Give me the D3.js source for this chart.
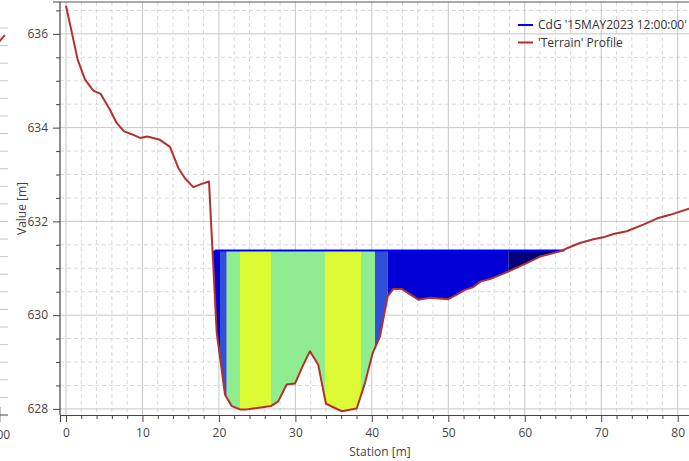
<!DOCTYPE html>
<html>
<head>
<meta charset="utf-8">
<script src="https://cdn.jsdelivr.net/npm/d3@7"></script>
<style>
  html, body { margin: 0; padding: 0; background: #ffffff; }
  svg { display: block; font-family: "Open Sans", "Noto Sans", sans-serif; }
</style>
</head>
<body>
<svg id="chart" width="689" height="461"></svg>
<script>
// ---------- data ----------
const terrainStation = [0, 1.53, 2.48, 3.57, 4.54, 5.75, 6.63, 7.59, 8.59, 9.68, 10.63, 12.29, 13.60, 14.69, 15.56, 16.65, 17.75, 18.70,
  19.71, 20.80, 21.67, 22.76, 23.63, 26.81, 27.76, 28.86, 29.95, 31.03, 31.91, 32.99, 34.00, 36.06, 38.02, 39.10, 40.11, 41.07,
  42.07, 42.81, 43.90, 46.08, 47.61, 50.00, 51.10, 52.18, 53.27, 54.24, 55.45, 57.85, 60.25, 61.99, 64.61, 66.14, 67.22, 68.97,
  70.28, 71.59, 73.34, 75.50, 77.26, 79.00, 81.48, 83.00];
const terrainValue = [636.60, 635.45, 635.03, 634.79, 634.72, 634.38, 634.10, 633.92, 633.86, 633.78, 633.81, 633.74, 633.59, 633.14, 632.92, 632.73, 632.80, 632.85,
  629.63, 628.30, 628.06, 627.99, 627.99, 628.06, 628.16, 628.52, 628.54, 628.94, 629.23, 628.94, 628.11, 627.95, 628.01, 628.55, 629.19, 629.55,
  630.40, 630.56, 630.56, 630.33, 630.37, 630.34, 630.44, 630.54, 630.60, 630.72, 630.77, 630.93, 631.11, 631.25, 631.36, 631.47, 631.54, 631.62,
  631.66, 631.73, 631.79, 631.93, 632.06, 632.14, 632.27, 632.33];

const waterSurface = 631.38;
// velocity-coloured water bands: start / end station and colour class
const bandStart = [18.9, 20.14, 21.02, 22.76, 26.81, 33.87, 38.58, 40.41, 42.07, 57.85];
const bandEnd   = [20.14, 21.02, 22.76, 26.81, 33.87, 38.58, 40.41, 42.07, 57.85, 66.5];
const bandClass = ["blue", "mid", "green", "yellow", "green", "yellow", "green", "mid", "blue", "navy"];
const bandColors = { blue: "#0000d6", mid: "#3050d8", green: "#90ec90", yellow: "#dcfb32", navy: "#00007c" };

const xTicksMajor = [0, 10, 20, 30, 40, 50, 60, 70, 80];
const yTicksMajor = [628, 630, 632, 634, 636];
const legendLabels = ["CdG '15MAY2023 12:00:00'", "'Terrain' Profile"];
const legendColors = ["#0000ff", "#b3312d"];

// neighbouring (cut-off) panel at the far left
const neighborGrid = [1, 2, 3, 4, 5, 6, 7, 8, 9, 10, 11, 12, 13, 14, 15, 16, 17, 18, 19, 20, 21, 22];
const neighborProfileX = [98.6, 99.5];
const neighborProfileY = [21.22, 21.6];

// ---------- layout ----------
const L = 60, R = 700, T = 2, B = 415;
const svg = d3.select("#chart");

const x = d3.scaleLinear().domain([-0.785, 82.92]).range([L, R]);
const y = d3.scaleLinear().domain([627.87, 636.68]).range([B, T]);

const xMinor = d3.range(0, 84, 2).filter(v => v % 10 !== 0);
const yMinor = d3.range(628, 636.6, 0.5).filter(v => v % 2 !== 0);

// ---------- neighbour panel fragment ----------
const nx = d3.scaleLinear().domain([90, 100]).range([-55, 8]);
const ny = d3.scaleLinear().domain([0, 22]).range([415, 28]);
const ng = svg.append("g");
ng.selectAll("line.ngrid").data(neighborGrid).join("line")
  .attr("x1", 0).attr("x2", 8)
  .attr("y1", d => ny(d)).attr("y2", d => ny(d))
  .attr("stroke", "#c4c4c4").attr("stroke-width", 1);
ng.append("path")
  .attr("d", d3.line()(neighborProfileX.map((v, i) => [nx(v), ny(neighborProfileY[i])])))
  .attr("stroke", "#b3312d").attr("stroke-width", 2).attr("fill", "none");
ng.append("line").attr("x1", 0).attr("x2", 8).attr("y1", B).attr("y2", B).attr("stroke", "#444");
ng.append("line").attr("x1", nx(98.7)).attr("x2", nx(98.7)).attr("y1", B - 8).attr("y2", B + 7).attr("stroke", "#444");
ng.append("text").attr("x", nx(98.7)).attr("y", 439).attr("text-anchor", "middle")
  .attr("font-size", 12).attr("fill", "#444").text("100");

// ---------- grid ----------
const clip = svg.append("defs").append("clipPath").attr("id", "plotclip")
  .append("rect").attr("x", L).attr("y", T).attr("width", R - L).attr("height", B - T);

const grid = svg.append("g").attr("clip-path", "url(#plotclip)");
grid.selectAll("line.xminor").data(xMinor).join("line")
  .attr("x1", d => x(d)).attr("x2", d => x(d)).attr("y1", T).attr("y2", B)
  .attr("stroke", "#d9d9d9").attr("stroke-dasharray", "4,3");
grid.selectAll("line.yminor").data(yMinor).join("line")
  .attr("x1", L).attr("x2", R).attr("y1", d => y(d)).attr("y2", d => y(d))
  .attr("stroke", "#d9d9d9").attr("stroke-dasharray", "4,3");
grid.selectAll("line.xmajor").data(xTicksMajor).join("line")
  .attr("x1", d => x(d)).attr("x2", d => x(d)).attr("y1", T).attr("y2", B)
  .attr("stroke", "#c6c6c6");
grid.selectAll("line.ymajor").data(yTicksMajor).join("line")
  .attr("x1", L).attr("x2", R).attr("y1", d => y(d)).attr("y2", d => y(d))
  .attr("stroke", "#c6c6c6");

// ---------- water bands ----------
const terrainAt = s => {
  if (s <= terrainStation[0]) return terrainValue[0];
  for (let i = 1; i < terrainStation.length; i++) {
    if (s <= terrainStation[i]) {
      const t = (s - terrainStation[i - 1]) / (terrainStation[i] - terrainStation[i - 1]);
      return terrainValue[i - 1] + t * (terrainValue[i] - terrainValue[i - 1]);
    }
  }
  return terrainValue[terrainValue.length - 1];
};
const plot = svg.append("g").attr("clip-path", "url(#plotclip)");
const area = d3.area()
  .x(d => x(d))
  .y0(d => y(Math.min(terrainAt(d), waterSurface)))
  .y1(() => y(waterSurface));

bandStart.forEach((s0, i) => {
  const s1 = bandEnd[i];
  const pts = d3.range(s0, s1, 0.05).concat(terrainStation.filter(s => s > s0 && s < s1)).concat([s1]).sort((a, b) => a - b);
  plot.append("path").attr("d", area(pts))
    .attr("fill", bandColors[bandClass[i]]).attr("stroke", "none");
});

// water surface line (only where wet)
const wetStart = 19.45, wetEnd = 65.2;
plot.append("line")
  .attr("x1", x(wetStart)).attr("x2", x(wetEnd))
  .attr("y1", y(waterSurface)).attr("y2", y(waterSurface))
  .attr("stroke", "#0000ff").attr("stroke-width", 2);

// terrain profile
plot.append("path")
  .attr("d", d3.line().x((d, i) => x(terrainStation[i])).y(d => y(d))(terrainValue))
  .attr("fill", "none").attr("stroke", "#b3312d").attr("stroke-width", 2).attr("stroke-linejoin", "round");

// ---------- axes ----------
const axisColor = "#444";
const yAxis = svg.append("g").attr("transform", `translate(${L},0)`)
  .call(d3.axisLeft(y).tickValues(yTicksMajor).tickFormat(d3.format("d")).tickSize(7).tickPadding(5));
const yAxisMinor = svg.append("g").attr("transform", `translate(${L},0)`)
  .call(d3.axisLeft(y).tickValues(yMinor).tickFormat("").tickSize(4));
const xAxis = svg.append("g").attr("transform", `translate(0,${B})`)
  .call(d3.axisBottom(x).tickValues(xTicksMajor).tickFormat(d3.format("d")).tickSize(7).tickPadding(6));
const xAxisMinor = svg.append("g").attr("transform", `translate(0,${B})`)
  .call(d3.axisBottom(x).tickValues(xMinor).tickFormat("").tickSize(4));

[yAxis, yAxisMinor, xAxis, xAxisMinor].forEach(g => {
  g.selectAll("path.domain").attr("stroke", axisColor).attr("stroke-width", 1.2);
  g.selectAll(".tick line").attr("stroke", axisColor);
  g.selectAll("text").attr("font-size", 12).attr("fill", "#444")
    .attr("font-family", "'Open Sans', 'Noto Sans', sans-serif");
});
yAxis.selectAll("path.domain").attr("d", `M-7,${T}H0V${B}`);
yAxisMinor.selectAll("path.domain").remove();
xAxisMinor.selectAll("path.domain").remove();

// top border
svg.append("line").attr("x1", L).attr("x2", R).attr("y1", T).attr("y2", T)
  .attr("stroke", "#555").attr("stroke-width", 1.2);

// axis titles
svg.append("text").attr("x", (L + R) / 2).attr("y", 456).attr("text-anchor", "middle")
  .attr("font-size", 12).attr("fill", "#444").text("Station [m]");
svg.append("text").attr("transform", `translate(26,${(T + B) / 2}) rotate(-90)`)
  .attr("text-anchor", "middle").attr("font-size", 12).attr("fill", "#444").text("Value [m]");

// ---------- legend ----------
const leg = svg.append("g").attr("transform", "translate(518,25)");
legendLabels.forEach((lab, i) => {
  leg.append("line").attr("x1", 0).attr("x2", 15).attr("y1", i * 17.5).attr("y2", i * 17.5)
    .attr("stroke", legendColors[i]).attr("stroke-width", 2);
  leg.append("text").attr("x", 20).attr("y", i * 17.5 + 4).attr("font-size", 12).attr("fill", "#333").text(lab);
});
</script>
</body>
</html>
